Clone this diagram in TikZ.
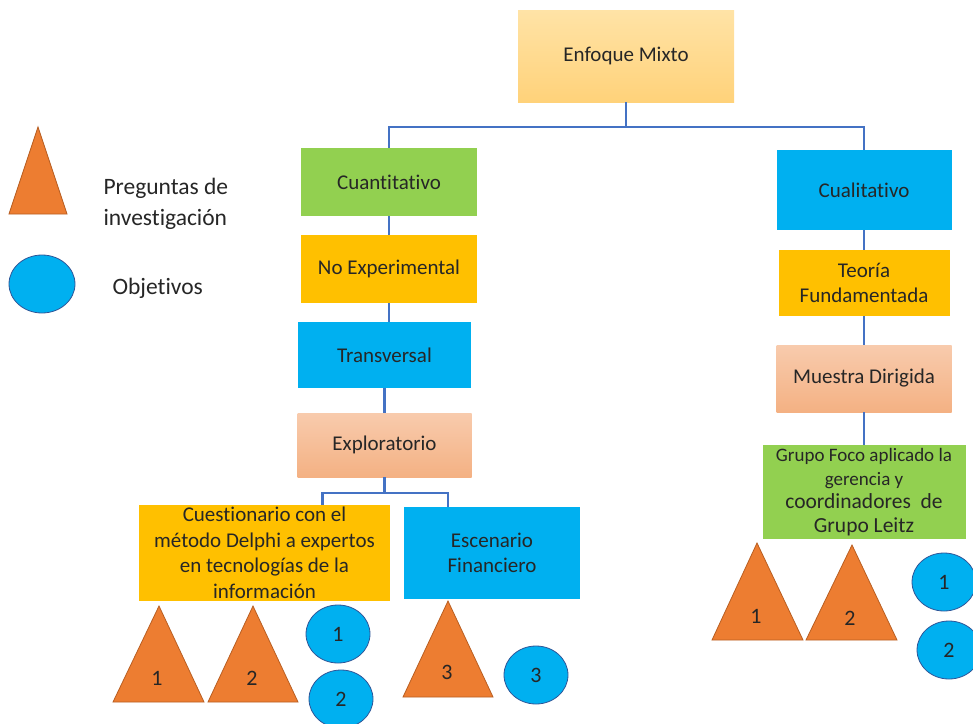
\documentclass[tikz,border=0pt]{standalone}
\usepackage{fontspec}
\setmainfont{Carlito}[Ligatures={NoCommon}]
\usetikzlibrary{shapes.geometric}
\definecolor{linkblue}{HTML}{4472C4}
\definecolor{txt}{HTML}{262626}
\definecolor{boxgreen}{HTML}{92D050}
\definecolor{boxblue}{HTML}{00B0F0}
\definecolor{boxgold}{HTML}{FFC000}
\definecolor{salmontop}{HTML}{F8CBAD}
\definecolor{salmonbot}{HTML}{F4B183}
\definecolor{mixtop}{HTML}{FFE3A6}
\definecolor{mixbot}{HTML}{FFD27A}
\definecolor{triorange}{HTML}{ED7D31}
\definecolor{triedge}{HTML}{B85E22}
\definecolor{objedge}{HTML}{2F5597}

\begin{document}
\begin{tikzpicture}[x=1pt, y=-1pt,
   box/.style = {rectangle, inner sep=2pt, align=center, text=txt,
                 font=\fontsize{21}{25.5}\selectfont},
  link/.style = {draw=linkblue, line width=2.3pt},
   tri/.style = {fill=triorange, draw=triedge, line width=0.8pt},
   obj/.style = {ellipse, fill=boxblue, draw=objedge, line width=0.8pt,
                 inner sep=0pt, minimum width=64pt, minimum height=58pt,
                 text=txt, font=\fontsize{22}{26}\selectfont},
   num/.style = {text=txt, font=\fontsize{22}{26}\selectfont}
                        ]
\useasboundingbox (0,0) rectangle (973,723);
% boxes
\node[box, top color=mixtop, bottom color=mixbot, minimum width=216pt, minimum height=92pt] (mixto) at (626,56) {Enfoque Mixto};
\node[box, fill=boxgreen, minimum width=176pt, minimum height=68pt] (cuan) at (389,182) {Cuantitativo};
\node[box, fill=boxgold, minimum width=176pt, minimum height=68pt] (noexp) at (389,269) {No Experimental};
\node[box, fill=boxblue, minimum width=173pt, minimum height=66pt] (trans) at (384.5,355) {Transversal};
\node[box, top color=salmontop, bottom color=salmonbot, minimum width=174pt, minimum height=64pt] (explo) at (384.5,445) {Exploratorio};
\node[box, fill=boxgold, minimum width=251pt, minimum height=94pt] (cuest) at (264.5,553) {Cuestionario con el\\método Delphi a expertos\\en tecnologías de la\\información};
\node[box, fill=boxblue, minimum width=176pt, minimum height=92pt] (esc) at (492,553) {Escenario\\Financiero};
\node[box, fill=boxblue, minimum width=175pt, minimum height=80pt] (cual) at (864,190) {Cualitativo};
\node[box, fill=boxgold, minimum width=171pt, minimum height=66pt] (teoria) at (864,283) {Teoría\\Fundamentada};
\node[box, top color=salmontop, bottom color=salmonbot, minimum width=175pt, minimum height=67pt] (muestra) at (864,378.5) {Muestra Dirigida};
\node[box, fill=boxgreen, minimum width=203pt, minimum height=94pt, font=\fontsize{19}{23.5}\selectfont] (grupo) at (864,492) {Grupo Foco aplicado la\\gerencia y\\\fontsize{21.5}{23.5}\selectfont coordinadores\ \ de\\\fontsize{21.5}{23.5}\selectfont Grupo Leitz};
% links
\draw[link] (mixto.south) -- ++(0,25) -| (cuan.north);
\draw[link] (mixto.south) -- ++(0,25) -| (cual.north);
\draw[link] (cuan.south) -- (noexp.north);
\draw[link] (noexp.south) -- (noexp.south |- trans.north);
\draw[link] (trans.south) -- (explo.north);
\draw[link] (explo.south) -- ++(0,16) -| ([xshift=58pt]cuest.north);
\draw[link] (explo.south) -- ++(0,16) -| ([xshift=-44pt]esc.north);
\draw[link] (cual) -- (teoria);
\draw[link] (teoria) -- (muestra);
\draw[link] (muestra) -- (grupo);
% questions
\draw[tri] (113,702) -- (159,606) -- (204,702) -- cycle;
\draw[tri] (208,702) -- (253,606) -- (298,702) -- cycle;
\draw[tri] (403,697) -- (448,601) -- (493,697) -- cycle;
\draw[tri] (712,640) -- (757,543) -- (803,640) -- cycle;
\draw[tri] (806,640) -- (852,545) -- (897,640) -- cycle;
\node[num] (q1) at (157,678) {1};
\node[num] (q2) at (252,678) {2};
\node[num] (q3) at (447,672) {3};
\node[num] (q4) at (756,616) {1};
\node[num] (q5) at (850,618) {2};
% objectives
\node[obj] (o1) at (338,634) {1};
\node[obj] (o2) at (341,699) {2};
\node[obj] (o3) at (536,675) {3};
\node[obj] (o4) at (944,582) {1};
\node[obj] (o5) at (949,650) {2};
% legend
\draw[tri] (9,214) -- (38,127) -- (67,214) -- cycle;
\node[text=txt, align=left, anchor=west, font=\fontsize{23.5}{31}\selectfont] (legq) at (100,204) {Preguntas de\\investigación};
\node[obj, minimum width=66pt] (lego) at (42,284) {};
\node[text=txt, anchor=west, font=\fontsize{23.5}{28}\selectfont] (legobj) at (109,288) {Objetivos};
\end{tikzpicture}
\end{document}
